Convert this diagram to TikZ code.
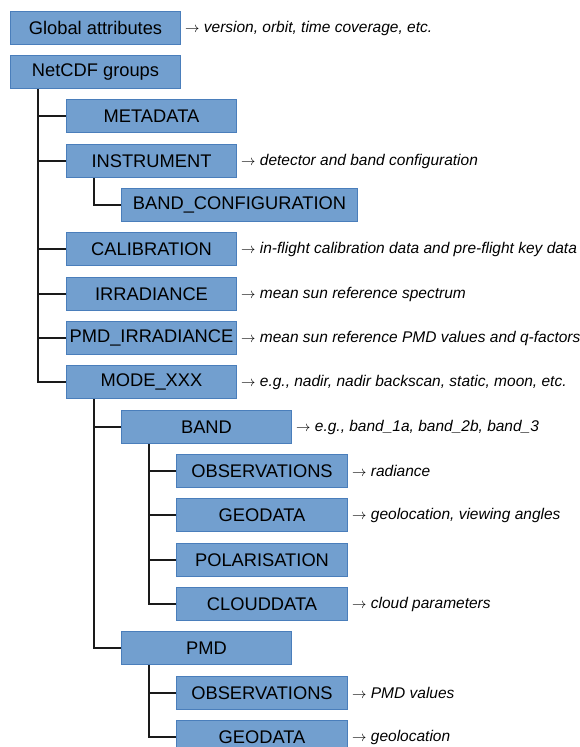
\documentclass[tikz,border=0pt]{standalone}
\usepackage{fontspec}
\setmainfont{Liberation Sans}
\definecolor{boxfill}{HTML}{729FCF}
\definecolor{boxline}{HTML}{4A7EBB}
\definecolor{conn}{HTML}{1A1A1A}
\begin{document}
\begin{tikzpicture}[x=1pt,y=-1pt,
  grp/.style={draw=boxline,line width=1pt,fill=boxfill,rectangle,anchor=north west,
    minimum width=170pt,minimum height=33pt,inner sep=0pt,font=\fontsize{18.3}{20}\selectfont,text=black},
  note/.style={anchor=west,inner sep=0pt,xshift=4pt,font=\fontsize{15.5}{18}\selectfont\itshape,text=black},
  link/.style={draw=conn,line width=1.4pt}]
\useasboundingbox (0,0) rectangle (579,747);
\clip (0,0) rectangle (579,747);
\node[grp] (glob) at (10,11) {Global attributes};
\node[grp] (net) at (10,55) {NetCDF groups};
\node[grp] (meta) at (66,99) {METADATA};
\node[grp] (instr) at (66,144) {INSTRUMENT};
\node[grp,minimum width=236pt] (bandconf) at (121,188) {BAND\_CONFIGURATION};
\node[grp] (calib) at (66,232) {CALIBRATION};
\node[grp] (irr) at (66,277) {IRRADIANCE};
\node[grp] (pmdirr) at (66,321) {PMD\_IRRADIANCE};
\node[grp] (mode) at (66,365) {MODE\_XXX};
\node[grp] (band) at (121,410) {BAND};
\node[grp,minimum width=171pt] (obs) at (176,454) {OBSERVATIONS};
\node[grp,minimum width=171pt] (geo) at (176,498) {GEODATA};
\node[grp,minimum width=171pt] (pol) at (176,543) {POLARISATION};
\node[grp,minimum width=171pt] (cloud) at (176,587) {CLOUDDATA};
\node[grp] (pmd) at (121,631) {PMD};
\node[grp,minimum width=171pt] (pobs) at (176,676) {OBSERVATIONS};
\node[grp,minimum width=171pt] (pgeo) at (176,720) {GEODATA};

\node[note] (nglob) at (glob.east) {$\rightarrow$ version, orbit, time coverage, etc.};
\node[note] (ninstr) at (instr.east) {$\rightarrow$ detector and band configuration};
\node[note] (ncalib) at (calib.east) {$\rightarrow$ in-flight calibration data and pre-flight key data};
\node[note] (nirr) at (irr.east) {$\rightarrow$ mean sun reference spectrum};
\node[note] (npmdirr) at (pmdirr.east) {$\rightarrow$ mean sun reference PMD values and q-factors};
\node[note] (nmode) at (mode.east) {$\rightarrow$ e.g., nadir, nadir backscan, static, moon, etc.};
\node[note] (nband) at (band.east) {$\rightarrow$ e.g., band\_1a, band\_2b, band\_3};
\node[note] (nobs) at (obs.east) {$\rightarrow$ radiance};
\node[note] (ngeo) at (geo.east) {$\rightarrow$ geolocation, viewing angles};
\node[note] (ncloud) at (cloud.east) {$\rightarrow$ cloud parameters};
\node[note] (npobs) at (pobs.east) {$\rightarrow$ PMD values};
\node[note] (npgeo) at (pgeo.east) {$\rightarrow$ geolocation};

\foreach \c in {meta,instr,calib,irr,pmdirr,mode}
  \draw[link] ([xshift=28pt]net.south west) |- (\c.west);
\draw[link] ([xshift=28pt]instr.south west) |- (bandconf.west);
\foreach \c in {band,pmd}
  \draw[link] ([xshift=28pt]mode.south west) |- (\c.west);
\foreach \c in {obs,geo,pol,cloud}
  \draw[link] ([xshift=28pt]band.south west) |- (\c.west);
\foreach \c in {pobs,pgeo}
  \draw[link] ([xshift=28pt]pmd.south west) |- (\c.west);
\end{tikzpicture}
\end{document}
